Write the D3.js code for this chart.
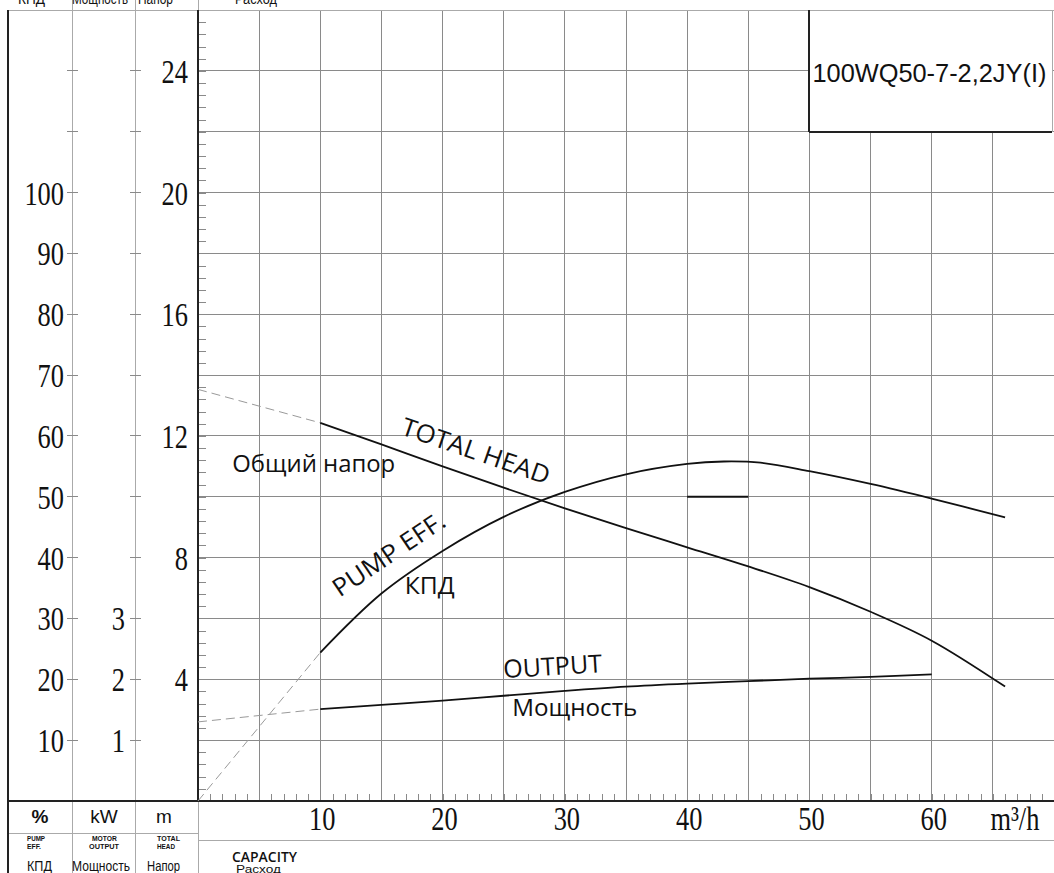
<!DOCTYPE html>
<html><head><meta charset="utf-8">
<script src="https://cdn.jsdelivr.net/npm/d3@7"></script>
<style>body{margin:0;background:#fff}svg{display:block}</style>
</head><body><svg id="c" width="1054" height="873"></svg>
<script>
// ---------- data ----------
const flowTicks = [10, 20, 30, 40, 50, 60];
const effTicks = [10, 20, 30, 40, 50, 60, 70, 80, 90, 100];
const powerTicks = [1, 2, 3];
const headTicks = [4, 8, 12, 16, 20, 24];

const headQ    = [10, 15, 20, 25, 30, 35, 40, 45, 50, 55, 60, 66];
const headVals = [12.43, 11.72, 11.0, 10.3, 9.62, 8.97, 8.34, 7.71, 7.03, 6.22, 5.27, 3.76];
const headDashQ = [0, 10];
const headDashVals = [13.53, 12.43];

const effQ    = [10, 15, 20, 25, 30, 35, 40, 43, 46, 50, 55, 60, 66];
const effVals = [24.4, 34.1, 41.1, 46.7, 50.8, 53.7, 55.4, 55.8, 55.6, 54.2, 52.1, 49.7, 46.6];
const effDashQ = [0, 10];
const effDashVals = [0, 24.4];

const powQ    = [10, 15, 20, 25, 30, 35, 40, 45, 50, 55, 60];
const powVals = [1.51, 1.58, 1.65, 1.73, 1.81, 1.88, 1.93, 1.97, 2.01, 2.04, 2.08];
const powDashQ = [0, 10];
const powDashVals = [1.30, 1.51];

const effRangeQ = [40, 45];
const effRangeVal = 50;

const modelName = "100WQ50-7-2,2JY(I)";

// ---------- scales ----------
const svg = d3.select('#c');
const x  = d3.scaleLinear().domain([0, 70]).range([198, 1054]);
const yH = d3.scaleLinear().domain([0, 26]).range([801, 10]);
const yE = d3.scaleLinear().domain([0, 130]).range([801, 10]);
const yP = d3.scaleLinear().domain([0, 13]).range([801, 10]);
const grid = '#8a8a8a', light = '#aaaaaa', dark = '#222';
const serif = "'Liberation Serif','Times New Roman',serif";
const sans = "'Liberation Sans',Arial,sans-serif";
const open = "'Open Sans','Noto Sans',sans-serif";

svg.append('rect').attr('width', 1054).attr('height', 873).attr('fill', '#fff');

// ---------- grid ----------
const g = svg.append('g').attr('shape-rendering', 'crispEdges');
g.selectAll('.vg').data(d3.range(5, 70, 5)).join('line')
  .attr('x1', d => x(d)).attr('x2', d => x(d)).attr('y1', yH(26)).attr('y2', yH(0))
  .attr('stroke', grid);
g.selectAll('.hg').data(d3.range(2, 26, 2)).join('line')
  .attr('x1', x(0)).attr('x2', x(70)).attr('y1', d => yH(d)).attr('y2', d => yH(d))
  .attr('stroke', grid);

// minor ticks on head axis
svg.append('g').attr('transform', `translate(${x(0)},0)`)
  .call(d3.axisRight(yH).tickValues(d3.range(1, 65).map(i => i * 0.4)).tickSize(8).tickFormat(''))
  .call(a => a.select('.domain').remove())
  .call(a => a.selectAll('line').attr('stroke', grid).attr('shape-rendering', 'crispEdges'));
// minor ticks on flow axis
svg.append('g').attr('transform', `translate(0,${yH(0)})`)
  .call(d3.axisTop(x).tickValues(d3.range(1, 70)).tickSize(7).tickFormat(''))
  .call(a => a.select('.domain').remove())
  .call(a => a.selectAll('line').attr('stroke', grid).attr('shape-rendering', 'crispEdges'));

// ---------- title box ----------
svg.append('rect').attr('x', x(50)).attr('y', yH(26)).attr('width', 1052 - x(50)).attr('height', yH(22) - yH(26))
  .attr('fill', '#fff').attr('stroke', light).attr('shape-rendering', 'crispEdges');
svg.append('text').attr('x', x(50) + 3).attr('y', 82).attr('font-family', sans).attr('font-size', 26)
  .attr('textLength', 234).attr('lengthAdjust', 'spacingAndGlyphs').attr('fill', '#111').text(modelName);

// ---------- frame ----------
const f = svg.append('g').attr('shape-rendering', 'crispEdges');
f.append('line').attr('x1', 8).attr('x2', 1054).attr('y1', yH(26)).attr('y2', yH(26)).attr('stroke', light);
[72, 135].forEach(cx => f.append('line').attr('x1', cx).attr('x2', cx).attr('y1', 0).attr('y2', 873).attr('stroke', light));
f.append('line').attr('x1', x(0)).attr('x2', x(0)).attr('y1', 0).attr('y2', 873).attr('stroke', light);
f.append('line').attr('x1', 8).attr('x2', x(0)).attr('y1', 833).attr('y2', 833).attr('stroke', light);
f.append('line').attr('x1', x(0)).attr('x2', 1054).attr('y1', 840).attr('y2', 840).attr('stroke', light);
f.append('line').attr('x1', 8).attr('x2', 8).attr('y1', yH(26)).attr('y2', 873).attr('stroke', dark).attr('stroke-width', 2);
f.append('line').attr('x1', x(0)).attr('x2', x(0)).attr('y1', yH(26)).attr('y2', yH(0)).attr('stroke', dark).attr('stroke-width', 2);
f.append('line').attr('x1', 8).attr('x2', 1054).attr('y1', yH(0)).attr('y2', yH(0)).attr('stroke', dark).attr('stroke-width', 2);
f.append('line').attr('x1', x(50)).attr('x2', x(50)).attr('y1', yH(26)).attr('y2', yH(22)).attr('stroke', dark).attr('stroke-width', 2);
f.append('line').attr('x1', x(50)).attr('x2', 1052).attr('y1', yH(22)).attr('y2', yH(22)).attr('stroke', dark).attr('stroke-width', 2);

// column ticks
f.selectAll('.t1').data(d3.range(2, 26, 2)).join('line')
  .attr('x1', 67).attr('x2', 78).attr('y1', d => yH(d)).attr('y2', d => yH(d)).attr('stroke', grid);
f.selectAll('.t2').data(d3.range(2, 26, 2)).join('line')
  .attr('x1', 130).attr('x2', 141).attr('y1', d => yH(d)).attr('y2', d => yH(d)).attr('stroke', grid);

// ---------- tick labels ----------
function numLabel(txt, px, py, anchor) {
  svg.append('text').attr('transform', `translate(${px},${py}) scale(0.8,1)`)
    .attr('text-anchor', anchor).attr('font-family', serif).attr('font-size', 33)
    .attr('fill', '#111').text(txt);
}
effTicks.forEach(v => numLabel(v, 64, yE(v) + 12, 'end'));
powerTicks.forEach(v => numLabel(v, 125, yP(v) + 12, 'end'));
headTicks.forEach(v => numLabel(v, 188, yH(v) + 12, 'end'));
flowTicks.forEach(v => numLabel(v, x(v) + 2, 830, 'middle'));
numLabel('m³/h', x(66.8), 830, 'middle');

// ---------- curves ----------
const zip = (a, b) => a.map((q, i) => [q, b[i]]);
const mk = ys => d3.line().x(d => x(d[0])).y(d => ys(d[1])).curve(d3.curveCatmullRom.alpha(0.5));
const dashStyle = p => p.attr('fill', 'none').attr('stroke', '#9a9a9a').attr('stroke-width', 1).attr('stroke-dasharray', '9,5');
svg.append('path').attr('d', mk(yH)(zip(headDashQ, headDashVals))).call(dashStyle);
svg.append('path').attr('d', mk(yE)(zip(effDashQ, effDashVals))).call(dashStyle);
svg.append('path').attr('d', mk(yP)(zip(powDashQ, powDashVals))).call(dashStyle);
const solid = p => p.attr('fill', 'none').attr('stroke', '#111').attr('stroke-width', 1.8);
svg.append('path').attr('d', mk(yH)(zip(headQ, headVals))).call(solid);
svg.append('path').attr('d', mk(yE)(zip(effQ, effVals))).call(solid);
svg.append('path').attr('d', mk(yP)(zip(powQ, powVals))).call(solid);
svg.append('line').attr('x1', x(effRangeQ[0])).attr('x2', x(effRangeQ[1]))
  .attr('y1', yE(effRangeVal)).attr('y2', yE(effRangeVal)).attr('stroke', '#111').attr('stroke-width', 2);

// ---------- curve annotations ----------
function ann(txt, px, py, size, rot, len) {
  const t = svg.append('text').attr('transform', `translate(${px},${py}) rotate(${rot})`)
    .attr('font-family', open).attr('font-size', size).attr('fill', '#111').text(txt);
  if (len) t.attr('textLength', len).attr('lengthAdjust', 'spacingAndGlyphs');
}
ann('TOTAL HEAD', x(16.5), yH(12.06), 25, 19, 155);
ann('Общий напор', x(2.8), yH(10.82), 23.5, 0, 163);
ann('PUMP EFF.', x(11.6), yE(33.4), 25, -34, 130);
ann('КПД', x(16.9), yE(34.0), 23, 0, 50);
ann('OUTPUT', x(25.0), yP(2.02), 25, -3.5, 99);
ann('Мощность', x(25.7), yP(1.40), 24, 0, 125);

// ---------- header / footer text ----------
function txt(s, px, py, size, opts = {}) {
  const t = svg.append('text').attr('x', px).attr('y', py).attr('font-family', opts.font || sans)
    .attr('font-size', size).attr('fill', '#111').text(s);
  if (opts.anchor) t.attr('text-anchor', opts.anchor);
  if (opts.weight) t.attr('font-weight', opts.weight);
  if (opts.len) t.attr('textLength', opts.len).attr('lengthAdjust', 'spacingAndGlyphs');
  return t;
}
txt('КПД', 18, 4, 14, {len: 27});
txt('Мощность', 72, 4, 14, {len: 56});
txt('Напор', 138, 4, 14, {len: 35});
txt('Расход', 235, 4, 14, {len: 42});

txt('%', 40, 823, 19, {anchor: 'middle', weight: 'bold'});
txt('kW', 104, 823, 19, {anchor: 'middle'});
txt('m', 164, 823, 19, {anchor: 'middle'});
txt('PUMP', 27, 841, 7.5, {weight: 'bold', len: 18});
txt('EFF.', 27, 849, 7.5, {weight: 'bold', len: 14});
txt('MOTOR', 92, 841, 7.5, {weight: 'bold', len: 25});
txt('OUTPUT', 89, 849, 7.5, {weight: 'bold', len: 30});
txt('TOTAL', 157, 841, 7.5, {weight: 'bold', len: 23});
txt('HEAD', 157, 849, 7.5, {weight: 'bold', len: 18});
txt('КПД', 27, 871, 14, {len: 25});
txt('Мощность', 72, 871, 14, {len: 58});
txt('Напор', 147, 871, 14, {len: 33});
txt('CAPACITY', 232, 862, 14, {font: open, weight: 600, len: 65});
txt('Расход', 236, 873, 10.5, {len: 45});
</script></body></html>
